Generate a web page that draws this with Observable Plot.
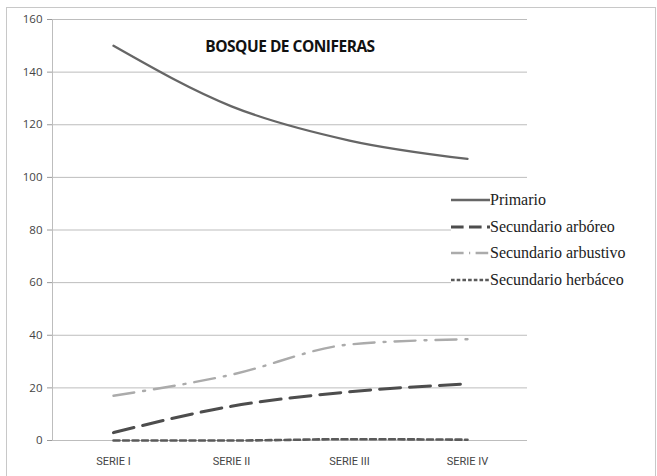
<!DOCTYPE html>
<html><head><meta charset="utf-8">
<script src="https://cdn.jsdelivr.net/npm/d3@7"></script>
<script src="https://cdn.jsdelivr.net/npm/@observablehq/plot@0.6"></script>
<style>
html,body{margin:0;padding:0;background:#fff;}
#wrap{position:relative;width:657px;height:476px;}
#chart{position:absolute;left:0;top:0;}
#border{position:absolute;left:6px;top:7px;width:650px;height:475px;border:1.5px solid #c8c8c8;box-sizing:border-box;z-index:3;}
#title{position:absolute;left:0;top:35px;width:580px;text-align:center;font:bold 15.5px "Open Sans",sans-serif;color:#111;letter-spacing:-0.5px;}
#legend{position:absolute;left:451px;top:187px;background:#fff;padding:0 6px 0 0;}
.row{display:flex;align-items:center;height:26.6px;font:16px "Liberation Serif",serif;color:#222;}
</style></head>
<body>
<div id="wrap"><div id="chart"></div><div id="border"></div><div id="title">BOSQUE DE CONIFERAS</div><div id="legend"></div></div>
<script>
const categories = ["SERIE I", "SERIE II", "SERIE III", "SERIE IV"];
const primario = [150, 127, 114, 107];
const arboreo = [3, 13, 18.5, 21.5];
const arbustivo = [17, 25, 36.5, 38.5];
const herbaceo = [0, 0, 0.5, 0.3];
const seriesNames = ["Primario", "Secundario arbóreo", "Secundario arbustivo", "Secundario herbáceo"];
const yTicks = [0, 20, 40, 60, 80, 100, 120, 140, 160];

const styles = {
  "Primario": {stroke: "#666666", width: 2.3, dash: null},
  "Secundario arbóreo": {stroke: "#4d4d4d", width: 3, dash: "21,9"},
  "Secundario arbustivo": {stroke: "#ababab", width: 2.4, dash: "21,9,2,9"},
  "Secundario herbáceo": {stroke: "#5a5a5a", width: 2.6, dash: "6,3.5"}
};
const values = [primario, arboreo, arbustivo, herbaceo];
const rows = [];
seriesNames.forEach((s, i) => categories.forEach((c, j) => rows.push({serie: s, cat: c, v: values[i][j]})));

const lineMarks = seriesNames.map(s => Plot.line(rows.filter(d => d.serie === s), {
  x: "cat", y: "v", stroke: styles[s].stroke, strokeWidth: styles[s].width,
  strokeDasharray: styles[s].dash, curve: "monotone-x"
}));

const chart = Plot.plot({
  width: 657, height: 476,
  marginLeft: 52, marginRight: 130, marginTop: 19, marginBottom: 36,
  x: {type: "point", domain: categories, padding: 0.5, label: null},
  y: {domain: [0, 160], label: null},
  style: {background: "transparent"},
  marks: [
    Plot.gridY(yTicks, {stroke: "#bdbdbd", strokeOpacity: 1, strokeWidth: 1}),
    Plot.frame({anchor: "left", stroke: "#bdbdbd", strokeWidth: 1}),
    Plot.axisY(yTicks, {tickSize: 5, tickPadding: 5, stroke: "#9a9a9a", fontSize: 11.5, fill: "#444", fontFamily: "'Open Sans', sans-serif", label: null}),
    Plot.axisX({tickSize: 0, tickPadding: 17, fontSize: 11, fill: "#444", fontFamily: "'Liberation Sans Narrow','Roboto',sans-serif", label: null}),
    ...lineMarks
  ]
});
document.getElementById("chart").appendChild(chart);

const legend = document.getElementById("legend");
seriesNames.forEach(s => {
  const st = styles[s];
  const row = document.createElement("div");
  row.className = "row";
  const dash = st.dash ? st.dash.split(",").map(v => +v * 0.6).join(",") : "";
  row.innerHTML = `<svg width="39" height="10"><line x1="0" y1="5" x2="39" y2="5" stroke="${st.stroke}" stroke-width="${st.width}" ${dash ? `stroke-dasharray="${dash}"` : ""}/></svg><span>${s}</span>`;
  legend.appendChild(row);
});
</script>
</body></html>
